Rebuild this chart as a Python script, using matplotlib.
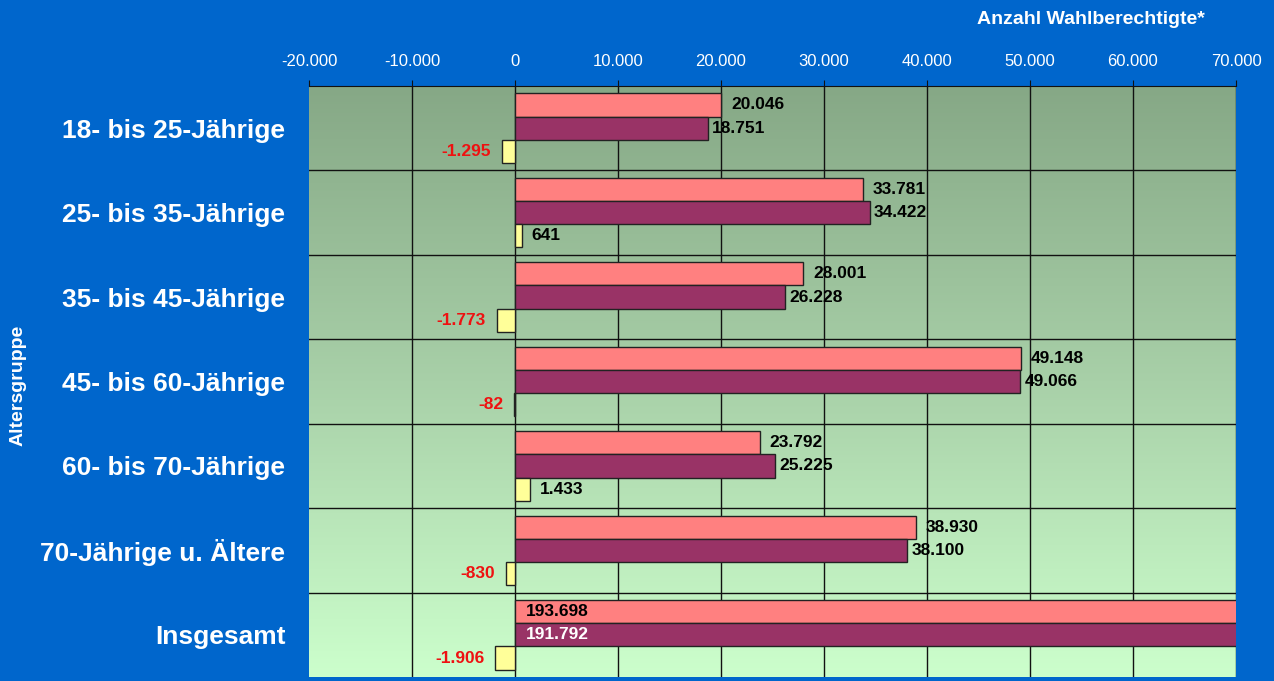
import numpy as np
import matplotlib
matplotlib.use("Agg")
import matplotlib.pyplot as plt
from matplotlib.colors import LinearSegmentedColormap

plt.rcParams['font.family'] = ['Liberation Sans', 'DejaVu Sans']

# Daten
gruppen = ["18- bis 25-Jährige", "25- bis 35-Jährige", "35- bis 45-Jährige",
           "45- bis 60-Jährige", "60- bis 70-Jährige", "70-Jährige u. Ältere",
           "Insgesamt"]
serie_a = [20046, 33781, 28001, 49148, 23792, 38930, 193698]
serie_b = [18751, 34422, 26228, 49066, 25225, 38100, 191792]
differenz = [-1295, 641, -1773, -82, 1433, -830, -1906]
x_ticks = [-20000, -10000, 0, 10000, 20000, 30000, 40000, 50000, 60000, 70000]

blau = "#0066CC"
rosa = "#FF8080"
lila = "#993366"
gelb = "#FFFF99"


def fmt(v):
    return f"{v:,}".replace(",", ".")


fig = plt.figure(figsize=(12.74, 6.81), dpi=100, facecolor=blau)
ax = fig.add_axes([309 / 1274, 1 - 677 / 681, 927 / 1274, 591 / 681])
ax.set_facecolor(blau)

xmin, xmax = -20000, 70000
n = len(gruppen)
ax.set_xlim(xmin, xmax)
ax.set_ylim(n - 0.5, -0.5)

# Farbverlauf im Hintergrund
cmap = LinearSegmentedColormap.from_list("bg", ["#86A886", "#A8D0A8", "#CCFFCC"])
grad = np.linspace(0, 1, 256).reshape(-1, 1)
ax.imshow(grad, cmap=cmap, aspect="auto", extent=[xmin, xmax, n - 0.5, -0.5],
          zorder=0)

y = np.arange(n)
h = 0.275
ax.barh(y - h, serie_a, height=h, color=rosa, edgecolor="#222222", linewidth=1, zorder=3)
ax.barh(y, serie_b, height=h, color=lila, edgecolor="#222222", linewidth=1, zorder=3)
ax.barh(y + h, differenz, height=h, color=gelb, edgecolor="#222222", linewidth=1, zorder=3)

# Gitter
for t in x_ticks[1:]:
    ax.axvline(t, color="#111111", lw=1, zorder=1)
for b in np.arange(0.5, n - 0.5, 1):
    ax.axhline(b, color="#111111", lw=1, zorder=1)

# Beschriftungen
lab = dict(fontsize=12.5, fontweight="bold", va="center", zorder=5)
for i in range(n):
    for off, v, col in [(-h, serie_a[i], "black"), (0, serie_b[i], "black")]:
        if v > xmax:
            c = "white" if off == 0 else "black"
            ax.annotate(fmt(v), (0, i + off), xytext=(8, 0), textcoords="offset points",
                        ha="left", color=c, **lab)
        else:
            ax.annotate(fmt(v), (v, i + off), xytext=(7 if off < 0 else 3, 0),
                        textcoords="offset points", ha="left", color=col, **lab)
    d = differenz[i]
    if d < 0:
        ax.annotate(fmt(d), (d, i + h), xytext=(-8, 0), textcoords="offset points",
                    ha="right", color="#EE1111", **lab)
    else:
        ax.annotate(fmt(d), (d, i + h), xytext=(7, 0), textcoords="offset points",
                    ha="left", color="black", **lab)

ax.xaxis.tick_top()
ax.set_xticks(x_ticks)
ax.set_xticklabels([fmt(t) for t in x_ticks], color="white", fontsize=12)
ax.tick_params(axis="x", length=4, color="#111111", pad=8)
ax.set_yticks(y)
ax.set_yticklabels(gruppen, color="white", fontsize=19, fontweight="bold")
ax.tick_params(axis="y", length=0, pad=17)

for s in ["left", "right", "bottom"]:
    ax.spines[s].set_visible(False)
ax.spines["top"].set_color("#111111")
ax.spines["top"].set_zorder(6)

fig.text(1205 / 1274, 1 - 20 / 681, "Anzahl Wahlberechtigte*", color="white",
         fontsize=14, fontweight="bold", ha="right", va="center")
fig.text(18 / 1274, 1 - 385 / 681, "Altersgruppe", color="white", fontsize=14,
         fontweight="bold", rotation=90, ha="center", va="center")

fig.savefig("out.png", dpi=100, facecolor=blau)
